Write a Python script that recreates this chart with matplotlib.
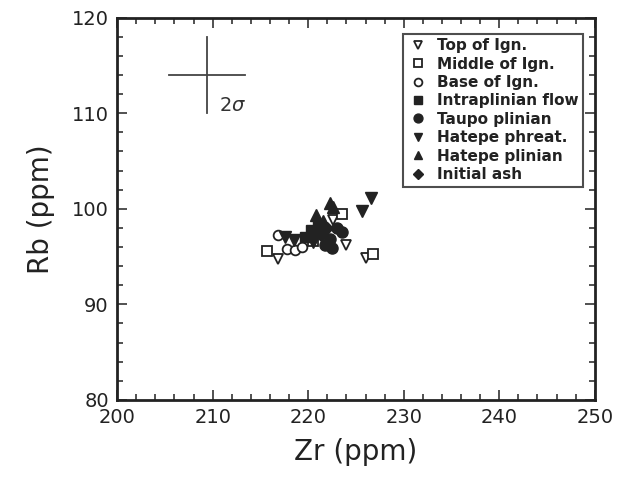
import numpy as np
import matplotlib
matplotlib.use('Agg')
import matplotlib.pyplot as plt
from matplotlib.ticker import MultipleLocator

# Zr / Rb (ppm) for each unit
top_zr = [216.8, 224.0, 226.0, 222.6]
top_rb = [94.7, 96.2, 94.9, 98.8]
mid_zr = [215.7, 223.5, 226.8, 220.5]
mid_rb = [95.6, 99.5, 95.3, 96.6]
base_zr = [216.8, 217.8, 218.6, 219.4, 221.5, 222.0]
base_rb = [97.3, 95.8, 95.7, 96.0, 97.5, 96.5]
intra_zr = [219.7, 220.3, 221.0]
intra_rb = [97.0, 97.8, 98.3]
taupo_zr = [222.3, 222.5, 223.5, 221.8, 223.0]
taupo_rb = [96.8, 95.9, 97.6, 96.2, 98.0]
phreat_zr = [217.6, 218.5, 225.6, 226.6, 220.5]
phreat_rb = [97.0, 96.7, 99.8, 101.1, 96.5]
hplin_zr = [222.3, 220.8, 222.6, 221.5]
hplin_rb = [100.6, 99.4, 100.2, 98.7]
ash_zr = [221.3, 222.0, 221.0]
ash_rb = [97.3, 98.0, 97.9]

# 2 sigma error cross
err_x, err_y = 209.4, 114.0
err_dx, err_dy = 4.0, 3.95

c = '#222222'
fig = plt.figure(figsize=(6.3, 4.8), dpi=100)
ax = fig.add_axes([0.186, 0.167, 0.758, 0.796])

ms = 7
ax.plot(top_zr, top_rb, 'v', ms=ms, mfc='white', mec=c, mew=1.3, ls='none', label='Top of Ign.')
ax.plot(mid_zr, mid_rb, 's', ms=ms, mfc='white', mec=c, mew=1.3, ls='none', label='Middle of Ign.')
ax.plot(base_zr, base_rb, 'o', ms=ms, mfc='white', mec=c, mew=1.3, ls='none', label='Base of Ign.')
ax.plot(intra_zr, intra_rb, 's', ms=ms, color=c, ls='none', label='Intraplinian flow')
ax.plot(taupo_zr, taupo_rb, 'o', ms=ms + 1, color=c, ls='none', label='Taupo plinian')
ax.plot(phreat_zr, phreat_rb, 'v', ms=ms + 1, color=c, ls='none', label='Hatepe phreat.')
ax.plot(hplin_zr, hplin_rb, '^', ms=ms + 1, color=c, ls='none', label='Hatepe plinian')
ax.plot(ash_zr, ash_rb, 'D', ms=ms - 1, color=c, ls='none', label='Initial ash')

ax.plot([err_x - err_dx, err_x + err_dx], [err_y, err_y], color='#444444', lw=1.3)
ax.plot([err_x, err_x], [err_y - err_dy, err_y + err_dy], color='#444444', lw=1.3)
ax.text(err_x + 1.3, err_y - 3.8, r'$2\sigma$', fontsize=14, color='#333333')

ax.set_xlim(200, 250)
ax.set_ylim(80, 120)
ax.xaxis.set_major_locator(MultipleLocator(10))
ax.xaxis.set_minor_locator(MultipleLocator(2))
ax.yaxis.set_major_locator(MultipleLocator(10))
ax.yaxis.set_minor_locator(MultipleLocator(2))
ax.tick_params(which='both', direction='in', top=True, right=True, width=1.1, colors=c)
ax.tick_params(which='major', length=7, labelsize=14, pad=6)
ax.tick_params(which='minor', length=4)
for s in ax.spines.values():
    s.set_linewidth(2)
    s.set_color(c)

ax.set_xlabel('Zr (ppm)', fontsize=20, color=c, labelpad=8)
ax.set_ylabel('Rb (ppm)', fontsize=20, color=c, labelpad=12)

leg = ax.legend(loc='upper right', bbox_to_anchor=(0.985, 0.97), frameon=True, fancybox=False,
                edgecolor=c, prop={'weight': 'bold', 'size': 11}, handletextpad=0.6,
                labelspacing=0.22, borderpad=0.3, handlelength=1.3, markerscale=0.8,
                borderaxespad=0.3)
leg.get_frame().set_linewidth(1.5)
for t in leg.get_texts():
    t.set_color(c)

fig.savefig('out.png', dpi=100)
